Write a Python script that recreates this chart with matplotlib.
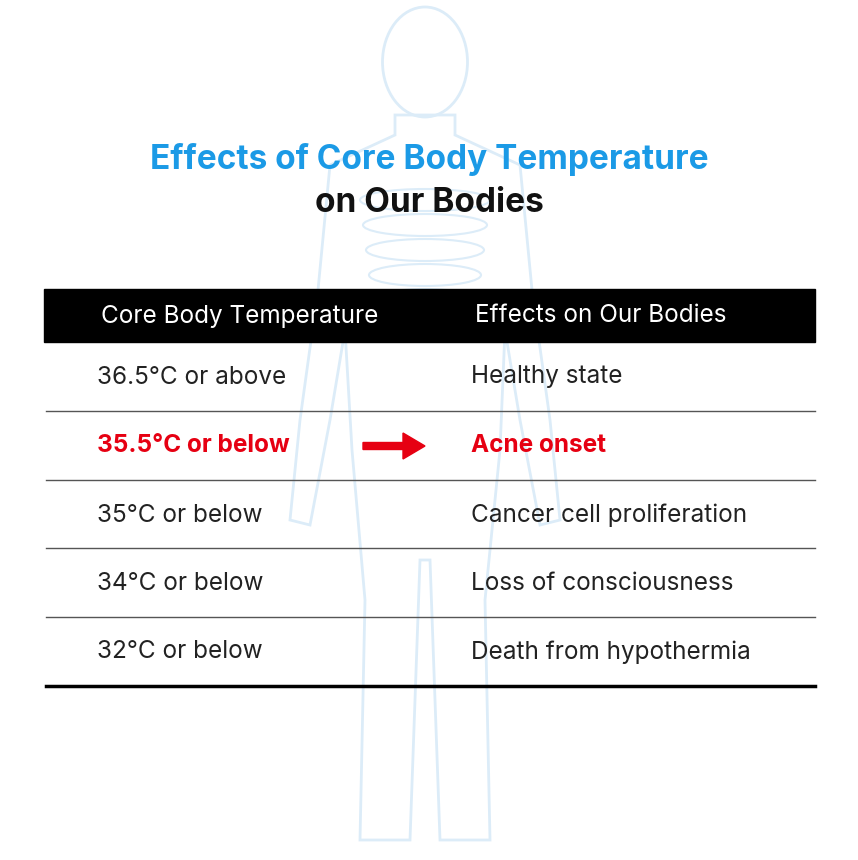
import matplotlib
matplotlib.use("Agg")
import matplotlib.pyplot as plt
from matplotlib.patches import Rectangle, Ellipse, FancyArrow, Polygon

title1 = "Effects of Core Body Temperature"
title2 = "on Our Bodies"
headers = ["Core Body Temperature", "Effects on Our Bodies"]
temps = ["36.5°C or above", "35.5°C or below", "35°C or below", "34°C or below", "32°C or below"]
effects = ["Healthy state", "Acne onset", "Cancer cell proliferation", "Loss of consciousness", "Death from hypothermia"]
highlight = 1

plt.rcParams['font.family'] = ['Inter', 'DejaVu Sans']
fig = plt.figure(figsize=(8.58, 8.60), dpi=100)
ax = fig.add_axes([0, 0, 1, 1])
ax.set_xlim(0, 858); ax.set_ylim(860, 0); ax.axis('off')

# faint body silhouette
bc = '#dcecf8'
ax.add_patch(Ellipse((425, 62), 85, 110, fill=False, ec=bc, lw=2))
body = [(395,115),(395,135),(330,165),(318,290),(300,420),(290,520),(310,525),(330,420),(345,330),(352,450),(365,600),(360,840),(410,840),(420,560),(430,560),(440,840),(490,840),(485,600),(500,450),(505,330),(520,420),(540,525),(560,520),(550,420),(532,290),(520,165),(455,135),(455,115)]
ax.add_patch(Polygon(body, closed=True, fill=False, ec=bc, lw=2))
for i in range(6):
    ax.add_patch(Ellipse((425, 200+i*25), 130-i*6, 22, fill=False, ec=bc, lw=1.5))

ax.text(429, 160, title1, ha='center', va='center', fontsize=24, fontweight='bold', color='#1b9ae6')
ax.text(429, 203, title2, ha='center', va='center', fontsize=24, fontweight='bold', color='#111111')

ax.add_patch(Rectangle((44, 289), 771, 53, color='black'))
ax.text(240, 316, headers[0], ha='center', va='center', fontsize=17.5, color='white')
ax.text(601, 316, headers[1], ha='center', va='center', fontsize=17.5, color='white')

ys = [377, 446, 515, 584, 652]
for i, (t, e, y) in enumerate(zip(temps, effects, ys)):
    red = i == highlight
    col = '#e60012' if red else '#222222'
    fw = 'bold' if red else 'normal'
    ax.text(97, y, t, ha='left', va='center', fontsize=17.5, color=col, fontweight=fw)
    ax.text(471, y, e, ha='left', va='center', fontsize=17.5, color=col, fontweight=fw)
    if red:
        ax.add_patch(FancyArrow(363, y, 40, 0, width=7, head_width=26, head_length=22,
                                length_includes_head=False, color='#e60012'))
for y in [411, 480, 548, 617]:
    ax.plot([46, 815], [y, y], color='#555555', lw=1)
ax.plot([46, 815], [686, 686], color='black', lw=2.5)

fig.savefig('out.png', dpi=100, facecolor='white')
